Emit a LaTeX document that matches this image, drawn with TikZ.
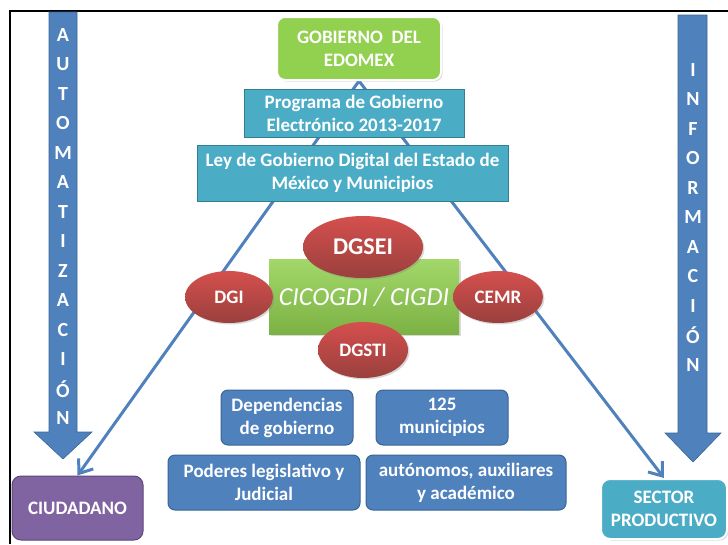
\documentclass[tikz,border=0pt]{standalone}
\usepackage{fontspec}
\setmainfont{Carlito}
\usetikzlibrary{shapes.geometric,arrows.meta,backgrounds,shadows}
\definecolor{azul}{HTML}{4F81BD}
\definecolor{azulborde}{HTML}{3A6594}
\definecolor{turquesa}{HTML}{4BACC6}
\definecolor{turqborde}{HTML}{357D91}
\definecolor{verde}{HTML}{92D050}
\definecolor{rojo}{HTML}{C0504D}
\definecolor{morado}{HTML}{8064A2}
\definecolor{moradoborde}{HTML}{5C4776}
\tikzset{
  sombra/.style={drop shadow={shadow xshift=1.5pt,shadow yshift=-1.5pt,opacity=0.3}},
  caja/.style={rectangle,text=white,align=center,inner sep=0pt,
    font=\bfseries\fontsize{19}{23}\selectfont},
  cajaazul/.style={caja,rounded corners=7pt,fill=azul,draw=azulborde,line width=1pt},
  cajaturq/.style={caja,fill=turquesa,draw=turqborde,line width=1pt},
  elipse/.style={ellipse,inner sep=0pt,text=white,sombra,
    top color=rojo!75!red!90!white,bottom color=rojo!80!black,
    font=\bfseries\fontsize{19}{19}\selectfont},
  letra/.style={text=white,font=\bfseries\fontsize{20}{20}\selectfont},
  bloque/.style={fill=azul,draw=azulborde,line width=0.6pt},
  flecha/.style={draw=azul,line width=3pt,-{Straight Barb[length=12pt,width=18pt]}}
}

\begin{document}
\begin{tikzpicture}[x=1pt,y=-1pt]
\useasboundingbox (0,0) rectangle (728,544);
\draw[line width=2pt] (10,544) -- (10,11) -- (728,11);

% flechas laterales
\draw[bloque] (49,12) -- (77,12) -- (77,432) -- (92,432) -- (63,459)
  -- (34,432) -- (49,432) -- cycle;
\draw[bloque] (678,15) -- (707,15) -- (707,433) -- (721,433) -- (693,462)
  -- (665,433) -- (678,433) -- cycle;
\foreach \l [count=\i] in {A,U,T,O,M,A,T,I,Z,A,C,I,Ó,N}
  \node[letra] at (63,{35+(\i-1)*29.5}) {\l};
\foreach \l [count=\i] in {I,N,F,O,R,M,A,C,I,Ó,N}
  \node[letra] at (693,{70+(\i-1)*29.5}) {\l};

% niveles superiores
\node[caja,rounded corners=8pt,fill=verde,draw=white,line width=2pt,sombra,
  minimum width=164pt,minimum height=63pt] (gob) at (359,48.5)
  {GOBIERNO~~DEL\\EDOMEX};
\node[cajaturq,minimum width=220pt,minimum height=48pt] (prog) at (354,113)
  {Programa de Gobierno\\Electrónico 2013-2017};
\node[cajaturq,minimum width=311pt,minimum height=56pt] (ley) at (352.5,173)
  {Ley de Gobierno Digital del Estado de\\México y Municipios};

% comite
\node[caja,sombra,top color=verde!85!white,bottom color=verde!85!black,
  minimum width=190pt,minimum height=75pt,
  font=\itshape\fontsize{26}{26}\selectfont] (cico) at (364,297) {CICOGDI / CIGDI};
\node[elipse,minimum width=120pt,minimum height=62pt,
  font=\bfseries\fontsize{24}{24}\selectfont] (dgsei) at (363,247) {DGSEI};
\node[elipse,minimum width=88pt,minimum height=52pt] (dgi) at (229,297) {DGI};
\node[elipse,minimum width=90pt,minimum height=52pt] (cemr) at (498,297) {CEMR};
\node[elipse,minimum width=90pt,minimum height=56pt] (dgsti) at (363,350) {DGSTI};

% sujetos obligados
\node[cajaazul,minimum width=132pt,minimum height=55pt] (dep) at (287,417.5)
  {Dependencias\\de gobierno};
\node[cajaazul,minimum width=132pt,minimum height=55pt] (mun) at (442,417.5)
  {125\\municipios};
\node[cajaazul,minimum width=192pt,minimum height=55pt] (pod) at (264,482.5)
  {Poderes legislativo y\\Judicial};
\node[cajaazul,minimum width=200pt,minimum height=55pt] (aut) at (466,482.5)
  {autónomos, auxiliares\\y académico};

% destinatarios
\node[caja,rounded corners=9pt,fill=morado,draw=moradoborde,line width=1pt,
  minimum width=131pt,minimum height=64pt] (ciud) at (77.5,508) {CIUDADANO};
\node[caja,rounded corners=9pt,fill=turquesa,draw=white,line width=2pt,sombra,
  minimum width=126pt,minimum height=60pt] (sector) at (664,509)
  {SECTOR\\PRODUCTIVO};

\begin{pgfonlayer}{background}
\draw[flecha] (gob.south) -- (ciud.north);
\draw[flecha] (gob.south) -- (sector.north);
\end{pgfonlayer}
\end{tikzpicture}
\end{document}
